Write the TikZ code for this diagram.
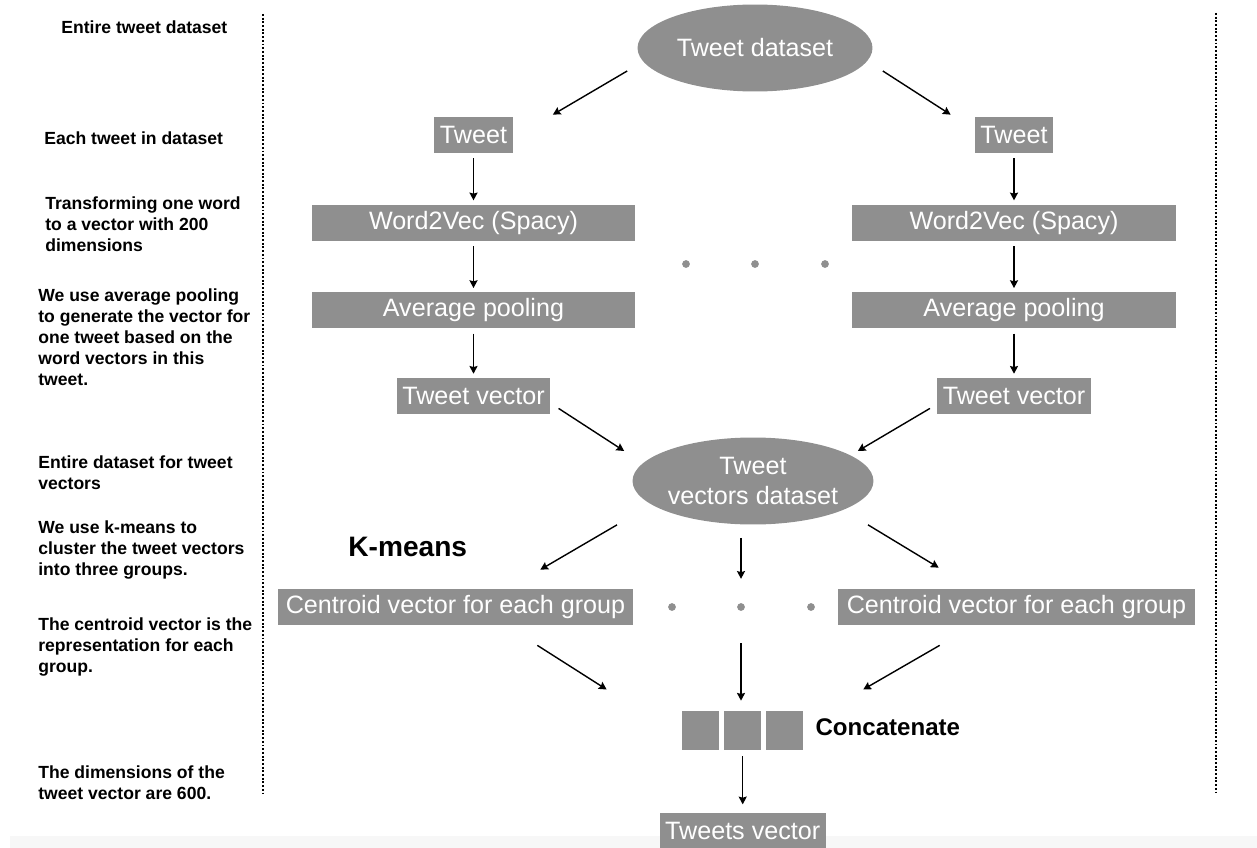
\documentclass[tikz,border=0pt]{standalone}
\usepackage{fontspec}
\setmainfont{Liberation Sans}
\usetikzlibrary{shapes.geometric, positioning, arrows.meta, calc}
\definecolor{boxgray}{HTML}{8F8F8F}
\tikzset{
  dataset/.style={
    ellipse,
    fill=boxgray,
    text=white,
    minimum width=4.7cm,
    minimum height=1.74cm,
    inner sep=0pt,
    align=center,
    font=\fontsize{14.3}{17}\selectfont
  },
  stage/.style={
    rectangle,
    fill=boxgray,
    text=white,
    minimum height=0.72cm,
    inner xsep=0.11cm,
    inner ysep=0pt,
    font=\fontsize{14.3}{17}\selectfont
  },
  widestage/.style={stage, minimum width=6.48cm},
  cell/.style={
    rectangle,
    fill=boxgray,
    minimum width=0.74cm,
    minimum height=0.78cm,
    inner sep=0pt
  },
  gapdot/.style={circle, fill=boxgray, minimum size=0.155cm, inner sep=0pt},
  note/.style={
    anchor=north west,
    align=left,
    inner sep=0pt,
    font=\bfseries\fontsize{10}{12}\selectfont
  },
  arrow/.style={
    draw=black,
    thick,
    ->,
    >={Stealth[length=4.4pt,width=4.6pt,inset=0.6pt]}
  },
  downarrow/.style={arrow, shorten <=0.1cm, shorten >=0.08cm},
  guide/.style={line width=1.1pt, dash pattern=on 1.1pt off 1pt}
}

\begin{document}
\begin{tikzpicture}[x=0.02cm, y=-0.02cm]
\useasboundingbox (0,0) rectangle (1257,848);
\fill[gray!6] (10,836) rectangle (1257,848);

% nodes
\node[dataset] (ds) at (755,48) {Tweet dataset};

\node[stage] (tweetL) at (473.5,135) {Tweet};
\node[widestage, below = 1.02cm of tweetL] (w2vL) {Word2Vec (Spacy)};
\node[widestage, below = 1.02cm of w2vL] (poolL) {Average pooling};
\node[stage, below = 0.98cm of poolL] (vecL) {Tweet vector};

\node[stage] (tweetR) at (1014,135) {Tweet};
\node[widestage, below = 1.02cm of tweetR] (w2vR) {Word2Vec (Spacy)};
\node[widestage, below = 1.02cm of w2vR] (poolR) {Average pooling};
\node[stage, below = 0.98cm of poolR] (vecR) {Tweet vector};

\node[gapdot] (d11) at (686,264) {};
\node[gapdot] (d12) at (755,264) {};
\node[gapdot] (d13) at (825,264) {};

\node[dataset] (vds) at (753,481) {Tweet\\vectors dataset};

\node[anchor=west, inner sep=0pt, font=\bfseries\fontsize{16}{19}\selectfont] (km) at (348,547) {K-means};

\node[stage, minimum width=7.1cm] (cenL) at (455.5,607) {Centroid vector for each group};
\node[stage, minimum width=7.14cm] (cenR) at (1016.5,607) {Centroid vector for each group};

\node[gapdot] (d21) at (672,607) {};
\node[gapdot] (d22) at (741,607) {};
\node[gapdot] (d23) at (811,607) {};

\node[cell] (cat1) at (700.5,730.5) {};
\node[cell, right = 0.09cm of cat1] (cat2) {};
\node[cell, right = 0.08cm of cat2] (cat3) {};
\node[right = 0.24cm of cat3, yshift=0.06cm, inner sep=0pt, font=\bfseries\fontsize{13.7}{16}\selectfont] (cat) {Concatenate};

\node[stage, below = 1.24cm of cat2] (out) {Tweets vector};

% notes
\node[note] (n1) at (61,20) {Entire tweet dataset};
\node[note] (n2) at (44,131) {Each tweet in dataset};
\node[note] (n3) at (45,196) {Transforming one word\\to a vector with 200\\dimensions};
\node[note] (n4) at (38,288) {We use average pooling\\to generate the vector for\\one tweet based on the\\word vectors in this\\tweet.};
\node[note] (n5) at (38,455) {Entire dataset for tweet\\vectors};
\node[note] (n6) at (38,520) {We use k-means to\\cluster the tweet vectors\\into three groups.};
\node[note] (n7) at (38,617) {The centroid vector is the\\representation for each\\group.};
\node[note] (n8) at (38,765) {The dimensions of the\\tweet vector are 600.};

\draw[guide] (263,14) -- (263,795);
\draw[guide] (1216,13) -- (1216,795);

% edges
%% tweet dataset
\draw[arrow] ($(ds.west)+(-10,23)$) -- ($(tweetL.north east)+(40,-2)$);
\draw[arrow] ($(ds.east)+(10,23)$) -- ($(tweetR.north west)+(-24,-2)$);

%% columns
\draw[downarrow] (tweetL) -- (w2vL);
\draw[downarrow] (w2vL) -- (poolL);
\draw[downarrow] (poolL) -- (vecL);
\draw[downarrow] (tweetR) -- (w2vR);
\draw[downarrow] (w2vR) -- (poolR);
\draw[downarrow] (poolR) -- (vecR);

%% tweet vectors
\draw[arrow] ($(vecL.south east)+(8,-6)$) -- ($(vds.west)+(-8,-30)$);
\draw[arrow] ($(vecR.south west)+(-7,-6)$) -- ($(vds.east)+(-16,-30)$);

%% k-means
\draw[arrow] ($(vds.south)+(-136,0)$) -- ($(cenL.north east)+(-93,-19)$);
\draw[arrow, shorten <=0.26cm, shorten >=0.48cm] (vds.south -| d22) -- (d22.north);
\draw[arrow] ($(vds.south)+(115,0)$) -- ($(cenR.north west)+(101,-21)$);

%% centroids
\draw[arrow] ($(cenL.south east)+(-96,20)$) -- ($(cat1.west)+(-75,-41)$);
\draw[arrow, shorten <=0.64cm, shorten >=0.2cm] (d22.south) -- (d22.south |- cat2.north);
\draw[arrow] ($(cenR.south west)+(102,20)$) -- ($(cat3.east)+(60,-41)$);

%% concatenate
\draw[arrow, shorten <=0.12cm, shorten >=0.16cm] (cat2) -- (out);

\end{tikzpicture}
\end{document}
